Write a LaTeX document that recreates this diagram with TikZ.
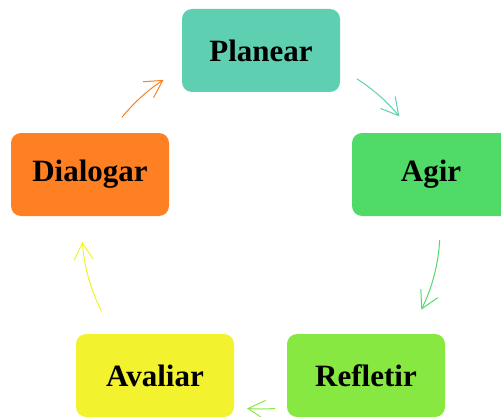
\documentclass[tikz,border=0pt]{standalone}
\usepackage{fontspec}
\setmainfont{Liberation Serif}
\usetikzlibrary{arrows.meta}
\definecolor{cPlan}{RGB}{94,207,177}
\definecolor{cAgir}{RGB}{80,219,105}
\definecolor{cRefl}{RGB}{135,232,66}
\definecolor{cAval}{RGB}{242,242,46}
\definecolor{cDial}{RGB}{255,128,34}
\tikzset{
  stagebox/.style={rounded corners=10pt, minimum width=158pt, minimum height=83pt,
    inner sep=0pt, font=\fontsize{31}{36}\selectfont\bfseries, text=black},
  cyclearrow/.style={line width=1pt, -{Straight Barb[length=17pt,width=19pt,line width=1pt]}}
}
\begin{document}
\begin{tikzpicture}[x=1pt,y=1pt]
\useasboundingbox (0,0) rectangle (501,416);
\node[stagebox, fill=cPlan] (plan) at (261,365.5) {Planear};
\node[stagebox, fill=cAgir] (agir) at (431,241.5) {Agir};
\node[stagebox, fill=cRefl] (refl) at (366,40.5) {Refletir};
\node[stagebox, fill=cAval] (aval) at (155,40.5) {Avaliar};
\node[stagebox, fill=cDial] (dial) at (90,241.5) {Dialogar};
\coordinate (O) at (261,186);
\path (O) ++(57.6:179pt) coordinate (s1);
\path (O) ++(-3.2:179pt) coordinate (s2);
\path (O) ++(-85.5:179pt) coordinate (s3);
\path (O) ++(207:179pt) coordinate (s4);
\path (O) ++(141:179pt) coordinate (s5);
\draw[cyclearrow, cPlan] (s1) arc[start angle=57.6, end angle=39.4, radius=179pt];
\draw[cyclearrow, cAgir] (s2) arc[start angle=-3.2, end angle=-26.4, radius=179pt];
\draw[cyclearrow, cRefl] (s3) arc[start angle=-85.5, end angle=-94.5, radius=179pt];
\draw[cyclearrow, cAval] (s4) arc[start angle=207, end angle=183.8, radius=179pt];
\draw[cyclearrow, cDial] (s5) arc[start angle=141, end angle=123, radius=179pt];
\end{tikzpicture}
\end{document}
